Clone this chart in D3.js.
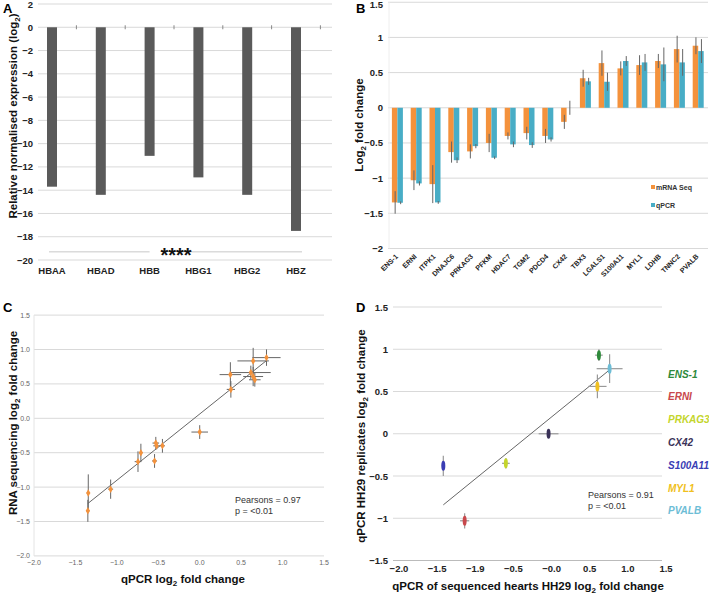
<!DOCTYPE html>
<html>
<head>
<meta charset="utf-8">
<script src="https://cdn.jsdelivr.net/npm/d3@7"></script>
<style>
body { margin: 0; background: #fff; }
svg { display: block; font-family: "Liberation Sans", Arial, sans-serif; }
</style>
</head>
<body>
<script>
// panel A - haemoglobin genes
var hbGenes = ["HBAA", "HBAD", "HBB", "HBG1", "HBG2", "HBZ"];
var hbValues = [-13.7, -14.4, -11.05, -12.9, -14.4, -17.5];
var aTicks = [2, 0, -2, -4, -6, -8, -10, -12, -14, -16, -18, -20];

// panel B and C - mRNA seq vs qPCR
var genes = ["ENS-1", "ERNI", "ITPK1", "DNAJC6", "PRKAG3", "PFKM", "HDAC7", "TGM2", "PDCD4",
  "CX42", "TBX3", "LGALS1", "S100A11", "MYL1", "LDHB", "TNNC2", "PVALB"];
var mrnaSeq = [-1.345, -1.03, -1.085, -0.63, -0.62, -0.5, -0.4, -0.36, -0.4,
  -0.2, 0.42, 0.635, 0.56, 0.607, 0.665, 0.834, 0.882];
var mrnaErr = [0.16, 0.14, 0.27, 0.15, 0.1, 0.13, 0.05, 0.09, 0.1,
  0.1, 0.12, 0.18, 0.1, 0.14, 0.1, 0.19, 0.12];
var qpcr = [-1.35, -1.075, -1.345, -0.745, -0.545, -0.71, -0.52, -0.53, -0.45,
  0, 0.376, 0.37, 0.665, 0.645, 0.617, 0.645, 0.806];
var qpcrErr = [0.02, 0.03, 0.02, 0.04, 0.03, 0.02, 0.04, 0.04, 0.03,
  0.1, 0.05, 0.13, 0.07, 0.12, 0.24, 0.19, 0.17];
var bTicks = [1.5, 1, 0.5, 0, -0.5, -1, -1.5, -2];
var cTicks = [1.5, 1, 0.5, 0, -0.5, -1, -1.5, -2];

// panel D - replicates
var repGenes = ["ENS-1", "ERNI", "PRKAG3", "CX42", "S100A11", "MYL1", "PVALB"];
var repColors = ["#2e8a3b", "#c8484c", "#c4d52c", "#3a3258", "#3a3db4", "#f0c020", "#6dbdd6"];
var seqHearts = [0.66, -1.1, -0.56, 0, -1.38, 0.64, 0.8];
var seqHeartsErr = [0.05, 0.06, 0.05, 0.13, 0.02, 0.12, 0.17];
var replicates = [0.93, -1.03, -0.35, 0, -0.38, 0.56, 0.77];
var replicatesErr = [0.07, 0.09, 0.06, 0.05, 0.12, 0.14, 0.17];
var dYTicks = [1.5, 1, 0.5, 0, -0.5, -1, -1.5];
var dXTicks = [-2, -1.5, -1, -0.5, 0, 0.5, 1, 1.5];
var dXLabels = ["\u22122.0", "\u22121.5", "\u22121.9", "\u22120.5", "\u22120.0", "0.5", "1.0", "1.5"];

var orange = "#f4923c", teal = "#48adc6", grid = "#d9d9d9";

function minus(s) { return String(s).replace("-", "\u2212"); }

function linreg(xs, ys) {
  var mx = d3.mean(xs), my = d3.mean(ys);
  var sxy = d3.sum(xs, function (x, i) { return (x - mx) * (ys[i] - my); });
  var sxx = d3.sum(xs, function (x) { return (x - mx) * (x - mx); });
  var b = sxy / sxx;
  return { b: b, a: my - b * mx };
}

// title with a subscript 2
function subTitle(g, x, y, before, after, rotate) {
  var t = g.append("text")
    .attr("transform", "translate(" + x + "," + y + ")" + (rotate ? " rotate(-90)" : ""))
    .attr("text-anchor", "middle")
    .attr("font-size", 11.5)
    .attr("font-weight", "bold")
    .attr("fill", "#111");
  t.append("tspan").text(before);
  t.append("tspan").attr("font-size", 8).attr("dy", 3).text("2");
  t.append("tspan").attr("dy", -3).text(after);
}

var svg = d3.select("body").append("svg").attr("width", 709).attr("height", 596);

// ---------------- A ----------------
var gA = svg.append("g");
var yA = d3.scaleLinear().domain([-20, 2]).range([260, 4]);
var xA = d3.scaleBand().domain(hbGenes).range([27.6, 320.4]);

gA.selectAll(".grid").data(aTicks).enter().append("line")
  .attr("x1", 38).attr("x2", 332)
  .attr("y1", function (d) { return yA(d); }).attr("y2", function (d) { return yA(d); })
  .attr("stroke", grid);
gA.selectAll(".tl").data(aTicks).enter().append("text")
  .attr("x", 33).attr("y", function (d) { return yA(d) + 3.5; })
  .attr("text-anchor", "end").attr("font-size", 9.5).attr("font-weight", "bold").attr("fill", "#222")
  .text(function (d) { return minus(d); });
gA.selectAll(".ztick").data(hbGenes).enter().append("line")
  .attr("x1", function (d, i) { return xA.range()[0] + (i + 1) * xA.step(); })
  .attr("x2", function (d, i) { return xA.range()[0] + (i + 1) * xA.step(); })
  .attr("y1", yA(0) - 2).attr("y2", yA(0) + 2)
  .attr("stroke", "#888");
gA.selectAll("rect").data(hbValues).enter().append("rect")
  .attr("x", function (d, i) { return xA(hbGenes[i]) + xA.bandwidth() / 2 - 5; })
  .attr("y", yA(0))
  .attr("width", 10)
  .attr("height", function (d) { return yA(d) - yA(0); })
  .attr("fill", "#5a5a5a");
gA.selectAll(".cat").data(hbGenes).enter().append("text")
  .attr("x", function (d) { return xA(d) + xA.bandwidth() / 2; })
  .attr("y", 274)
  .attr("text-anchor", "middle").attr("font-size", 9.5).attr("font-weight", "bold").attr("fill", "#222")
  .text(function (d) { return d; });
// significance line
var sigY = yA(-19.3);
gA.append("line").attr("x1", xA("HBAA") + xA.bandwidth() / 2 - 3).attr("x2", xA("HBB") + xA.bandwidth() / 2)
  .attr("y1", sigY).attr("y2", sigY).attr("stroke", "#c8c8c8");
gA.append("line").attr("x1", xA("HBG1") + 3).attr("x2", xA("HBZ") + xA.bandwidth() / 2 + 6)
  .attr("y1", sigY).attr("y2", sigY).attr("stroke", "#c8c8c8");
gA.append("text").attr("x", 176).attr("y", sigY + 10)
  .attr("text-anchor", "middle").attr("font-size", 20).attr("font-weight", "bold").attr("fill", "#111")
  .text("****");
subTitle(gA, 17, 116, "Relative normalised expression (log", ")", true);
gA.append("text").attr("x", 3).attr("y", 13).attr("font-size", 13).attr("font-weight", "bold").text("A");

// ---------------- B ----------------
var gB = svg.append("g");
var yB = d3.scaleLinear().domain([-2, 1.5]).range([248.5, 2.25]);
var xB = d3.scaleBand().domain(genes).range([388, 707.6]);
var bw = 5.5;

gB.selectAll(".grid").data(bTicks).enter().append("line")
  .attr("x1", 388).attr("x2", 708)
  .attr("y1", function (d) { return yB(d); }).attr("y2", function (d) { return yB(d); })
  .attr("stroke", grid);
gB.append("line").attr("x1", 389).attr("x2", 389).attr("y1", yB(1.5)).attr("y2", yB(-2)).attr("stroke", "#eee");
gB.selectAll(".tl").data(bTicks).enter().append("text")
  .attr("x", 383).attr("y", function (d) { return Math.max(yB(d) + 3.5, 8); })
  .attr("text-anchor", "end").attr("font-size", 9.5).attr("font-weight", "bold").attr("fill", "#222")
  .text(function (d) { return minus(d); });

function cx(i) { return xB(genes[i]) + xB.bandwidth() / 2; }
gB.selectAll(".bo").data(mrnaSeq).enter().append("rect")
  .attr("x", function (d, i) { return cx(i) - bw; })
  .attr("y", function (d) { return yB(Math.max(0, d)); })
  .attr("width", bw)
  .attr("height", function (d) { return Math.abs(yB(d) - yB(0)); })
  .attr("fill", orange);
gB.selectAll(".bt").data(qpcr).enter().append("rect")
  .attr("x", function (d, i) { return cx(i); })
  .attr("y", function (d) { return yB(Math.max(0, d)); })
  .attr("width", bw)
  .attr("height", function (d) { return Math.abs(yB(d) - yB(0)); })
  .attr("fill", teal);
gB.selectAll(".eo").data(mrnaSeq).enter().append("line")
  .attr("x1", function (d, i) { return cx(i) - bw / 2 + 0.5; })
  .attr("x2", function (d, i) { return cx(i) - bw / 2 + 0.5; })
  .attr("y1", function (d, i) { return yB(d + mrnaErr[i]); })
  .attr("y2", function (d, i) { return yB(d - mrnaErr[i]); })
  .attr("stroke", "#666").attr("stroke-width", 1);
gB.selectAll(".et").data(qpcr).enter().append("line")
  .attr("x1", function (d, i) { return cx(i) + bw / 2 + 0.5; })
  .attr("x2", function (d, i) { return cx(i) + bw / 2 + 0.5; })
  .attr("y1", function (d, i) { return yB(d + qpcrErr[i]); })
  .attr("y2", function (d, i) { return yB(d - qpcrErr[i]); })
  .attr("stroke", "#666").attr("stroke-width", 1);
gB.selectAll(".xl").data(genes).enter().append("text")
  .attr("transform", function (d, i) { return "translate(" + (cx(i) + 1) + ",257) rotate(-45)"; })
  .attr("text-anchor", "end").attr("font-size", 7).attr("font-weight", "bold").attr("fill", "#222")
  .text(function (d) { return d; });
// legend
var legB = [["mRNA Seq", orange], ["qPCR", teal]];
legB.forEach(function (l, i) {
  gB.append("rect").attr("x", 651).attr("y", 185 + i * 18).attr("width", 4).attr("height", 4).attr("fill", l[1]);
  gB.append("text").attr("x", 656).attr("y", 189.5 + i * 18).attr("font-size", 7)
    .attr("font-weight", "bold").attr("fill", "#333").text(l[0]);
});
subTitle(gB, 363, 125, "Log", " fold change", true);
gB.append("text").attr("x", 356).attr("y", 13).attr("font-size", 13).attr("font-weight", "bold").text("B");

// ---------------- C ----------------
var gC = svg.append("g");
var xC = d3.scaleLinear().domain([-2, 1.5]).range([34, 324]);
var yC = d3.scaleLinear().domain([-2, 1.5]).range([555.9, 315.1]);

gC.selectAll(".grid").data(cTicks).enter().append("line")
  .attr("x1", 34).attr("x2", 324)
  .attr("y1", function (d) { return yC(d); }).attr("y2", function (d) { return yC(d); })
  .attr("stroke", grid);
gC.append("line").attr("x1", 34).attr("x2", 34).attr("y1", yC(1.5)).attr("y2", yC(-2)).attr("stroke", "#e4e4e4");
gC.selectAll(".tl").data(cTicks).enter().append("text")
  .attr("x", 30).attr("y", function (d) { return yC(d) + 2.5; })
  .attr("text-anchor", "end").attr("font-size", 7).attr("fill", "#666")
  .text(function (d) { return minus(d3.format(".1f")(d)); });
gC.selectAll(".xtl").data(cTicks).enter().append("text")
  .attr("x", function (d) { return xC(d); }).attr("y", 565)
  .attr("text-anchor", "middle").attr("font-size", 7).attr("fill", "#666")
  .text(function (d) { return minus(d3.format(".1f")(d)); });

var regC = linreg(qpcr, mrnaSeq);
var cx0 = d3.min(qpcr), cx1 = d3.max(qpcr);
gC.append("line")
  .attr("x1", xC(cx0)).attr("y1", yC(regC.a + regC.b * cx0))
  .attr("x2", xC(cx1)).attr("y2", yC(regC.a + regC.b * cx1))
  .attr("stroke", "#555").attr("stroke-width", 0.9);
gC.selectAll(".ev").data(qpcr).enter().append("line")
  .attr("x1", function (d) { return xC(d); }).attr("x2", function (d) { return xC(d); })
  .attr("y1", function (d, i) { return yC(mrnaSeq[i] + mrnaErr[i]); })
  .attr("y2", function (d, i) { return yC(mrnaSeq[i] - mrnaErr[i]); })
  .attr("stroke", "#666").attr("stroke-width", 1);
gC.selectAll(".eh").data(qpcr).enter().append("line")
  .attr("x1", function (d, i) { return xC(d - qpcrErr[i]); })
  .attr("x2", function (d, i) { return xC(d + qpcrErr[i]); })
  .attr("y1", function (d, i) { return yC(mrnaSeq[i]); })
  .attr("y2", function (d, i) { return yC(mrnaSeq[i]); })
  .attr("stroke", "#666").attr("stroke-width", 1);
gC.selectAll(".pt").data(qpcr).enter().append("path")
  .attr("transform", function (d, i) { return "translate(" + xC(d) + "," + yC(mrnaSeq[i]) + ")"; })
  .attr("d", d3.symbol().type(d3.symbolDiamond).size(16))
  .attr("fill", orange);
gC.append("text").attr("x", 235).attr("y", 503).attr("font-size", 9).attr("fill", "#333").text("Pearsons = 0.97");
gC.append("text").attr("x", 235).attr("y", 514).attr("font-size", 9).attr("fill", "#333").text("p = <0.01");
subTitle(gC, 183, 583, "qPCR log", " fold change", false);
subTitle(gC, 17, 423, "RNA sequencing log", " fold change", true);
gC.append("text").attr("x", 3).attr("y", 312).attr("font-size", 13).attr("font-weight", "bold").text("C");

// ---------------- D ----------------
var gD = svg.append("g");
var xD = d3.scaleLinear().domain([-2, 1.5]).range([396, 663]);
var yD = d3.scaleLinear().domain([-1.5, 1.5]).range([560.5, 307]);

gD.selectAll(".grid").data(dYTicks).enter().append("line")
  .attr("x1", 393).attr("x2", 662)
  .attr("y1", function (d) { return yD(d); }).attr("y2", function (d) { return yD(d); })
  .attr("stroke", function (d) { return d === -1.5 ? "#bbb" : grid; });
gD.selectAll(".tl").data(dYTicks).enter().append("text")
  .attr("x", 388).attr("y", function (d) { return yD(d) + 3.5; })
  .attr("text-anchor", "end").attr("font-size", 9.5).attr("font-weight", "bold").attr("fill", "#222")
  .text(function (d) { return minus(d); });
gD.selectAll(".xtl").data(dXTicks).enter().append("text")
  .attr("x", function (d) { return xD(d) + 3; }).attr("y", 572)
  .attr("text-anchor", "middle").attr("font-size", 9.5).attr("font-weight", "bold").attr("fill", "#222")
  .text(function (d, i) { return dXLabels[i]; });

var regD = linreg(seqHearts, replicates);
var dx0 = d3.min(seqHearts), dx1 = d3.max(seqHearts);
gD.append("line")
  .attr("x1", xD(dx0)).attr("y1", yD(regD.a + regD.b * dx0))
  .attr("x2", xD(dx1)).attr("y2", yD(regD.a + regD.b * dx1))
  .attr("stroke", "#555").attr("stroke-width", 0.9);
gD.selectAll(".ev").data(seqHearts).enter().append("line")
  .attr("x1", function (d) { return xD(d); }).attr("x2", function (d) { return xD(d); })
  .attr("y1", function (d, i) { return yD(replicates[i] + replicatesErr[i]); })
  .attr("y2", function (d, i) { return yD(replicates[i] - replicatesErr[i]); })
  .attr("stroke", "#999").attr("stroke-width", 1.2);
gD.selectAll(".eh").data(seqHearts).enter().append("line")
  .attr("x1", function (d, i) { return xD(d - seqHeartsErr[i]); })
  .attr("x2", function (d, i) { return xD(d + seqHeartsErr[i]); })
  .attr("y1", function (d, i) { return yD(replicates[i]); })
  .attr("y2", function (d, i) { return yD(replicates[i]); })
  .attr("stroke", "#999").attr("stroke-width", 1.2);
gD.selectAll(".pt").data(seqHearts).enter().append("ellipse")
  .attr("cx", function (d) { return xD(d); })
  .attr("cy", function (d, i) { return yD(replicates[i]); })
  .attr("rx", 2).attr("ry", 5)
  .attr("fill", function (d, i) { return repColors[i]; });
gD.selectAll(".leg").data(repGenes).enter().append("text")
  .attr("x", 668).attr("y", function (d, i) { return 377.5 + i * 22.8; })
  .attr("font-size", 10).attr("font-weight", "bold").attr("font-style", "italic")
  .attr("fill", function (d, i) { return repColors[i]; })
  .text(function (d) { return d; });
gD.append("text").attr("x", 588).attr("y", 498).attr("font-size", 9).attr("fill", "#333").text("Pearsons = 0.91");
gD.append("text").attr("x", 588).attr("y", 509).attr("font-size", 9).attr("fill", "#333").text("p = <0.01");
subTitle(gD, 528, 590, "qPCR of sequenced hearts HH29 log", " fold change", false);
subTitle(gD, 365, 436, "qPCR HH29 replicates log", " fold change", true);
gD.append("text").attr("x", 356).attr("y", 312).attr("font-size", 13).attr("font-weight", "bold").text("D");
</script>
</body>
</html>
